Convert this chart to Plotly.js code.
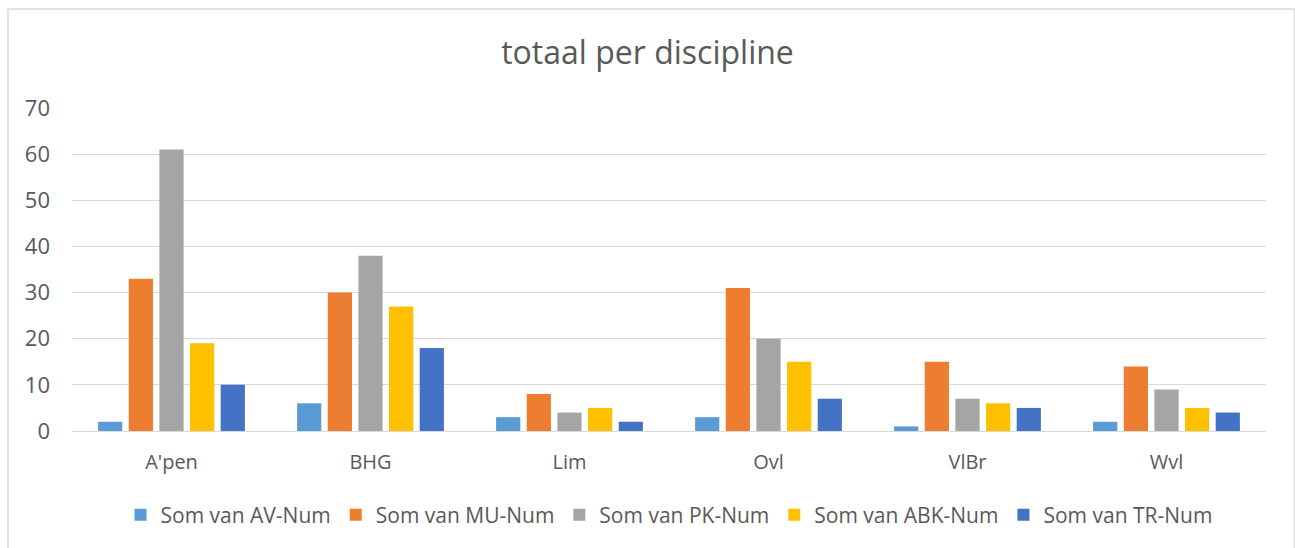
<!DOCTYPE html>
<html>
<head>
<meta charset="utf-8">
<script src="https://cdn.plot.ly/plotly-3.0.1.min.js"></script>
<style>
html,body{margin:0;padding:0;background:#fff;}
#chart{width:1295px;height:548px;}
</style>
</head>
<body>
<div id="chart"></div>
<script>
const categories = ["A'pen", "BHG", "Lim", "Ovl", "VlBr", "Wvl"];
const seriesNames = ["Som van AV-Num", "Som van MU-Num", "Som van PK-Num", "Som van ABK-Num", "Som van TR-Num"];
const avNum  = [2, 6, 3, 3, 1, 2];
const muNum  = [33, 30, 8, 31, 15, 14];
const pkNum  = [61, 38, 4, 20, 7, 9];
const abkNum = [19, 27, 5, 15, 6, 5];
const trNum  = [10, 18, 2, 7, 5, 4];
const colors = ["#5B9BD5", "#ED7D31", "#A5A5A5", "#FFC000", "#4472C4"];
const yTicks = [0, 10, 20, 30, 40, 50, 60, 70];

const allSeries = [avNum, muNum, pkNum, abkNum, trNum];
const traces = allSeries.map((vals, i) => ({
  type: 'bar',
  name: seriesNames[i],
  x: categories,
  y: vals,
  marker: {color: colors[i]},
  hoverinfo: 'x+y+name'
}));

const font = "'Open Sans', 'Noto Sans', sans-serif";
const layout = {
  width: 1295,
  height: 548,
  paper_bgcolor: '#ffffff',
  plot_bgcolor: '#ffffff',
  margin: {l: 72, r: 29, t: 108, b: 117},
  font: {family: font, color: '#595959', size: 20},
  title: {
    text: 'totaal per discipline',
    font: {family: font, size: 32, color: '#595959'},
    x: 0.5, xanchor: 'center',
    y: 1 - 53 / 548, yanchor: 'middle', yref: 'container'
  },
  barmode: 'group',
  bargap: 0.23,
  bargroupgap: 0.21,
  xaxis: {
    type: 'category',
    showline: true,
    linecolor: '#d9d9d9',
    linewidth: 1,
    ticks: '',
    showgrid: false,
    tickfont: {size: 20, color: '#595959'},
    ticklabelstandoff: 13
  },
  yaxis: {
    range: [0, 70],
    tickvals: yTicks,
    showgrid: true,
    gridcolor: '#d9d9d9',
    gridwidth: 1,
    zeroline: false,
    showline: false,
    ticks: '',
    tickfont: {size: 22, color: '#595959'},
    ticklabelstandoff: 21
  },
  showlegend: true,
  legend: {
    orientation: 'h',
    x: 0.5, xanchor: 'center',
    y: (431 - 515) / 323, yanchor: 'middle',
    font: {size: 21, color: '#595959'},
    itemclick: false
  },
  shapes: [{
    type: 'rect', xref: 'paper', yref: 'paper',
    x0: (8 - 72) / 1194, x1: (1294.5 - 72) / 1194,
    y0: (431 - 570) / 323, y1: (431 - 9) / 323,
    line: {color: '#d9d9d9', width: 1.5},
    fillcolor: 'rgba(0,0,0,0)',
    layer: 'below'
  }]
};

Plotly.newPlot('chart', traces, layout, {displayModeBar: false});
</script>
</body>
</html>
